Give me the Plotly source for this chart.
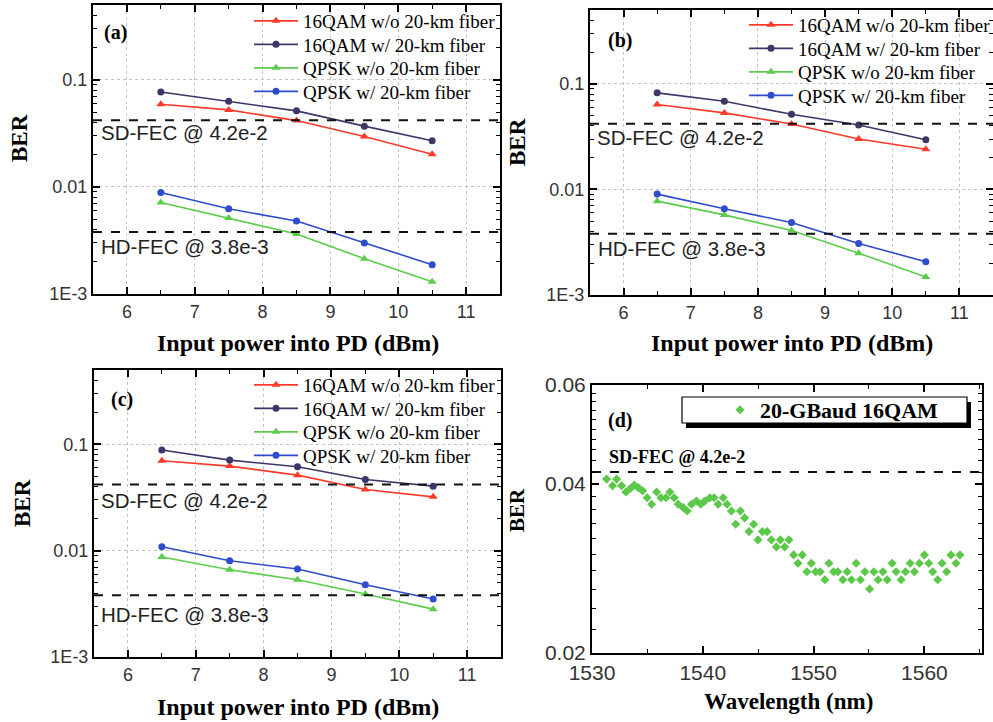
import plotly.graph_objects as go

# ---------------- data ----------------
power_dbm = [6.5, 7.5, 8.5, 9.5, 10.5]

a_16qam_wo = [0.0593, 0.0525, 0.0417, 0.0296, 0.0202]
a_16qam_w = [0.0772, 0.0632, 0.0514, 0.0370, 0.0270]
a_qpsk_wo = [0.00716, 0.00512, 0.00363, 0.00214, 0.00130]
a_qpsk_w = [0.00889, 0.00625, 0.00480, 0.00299, 0.00188]

b_16qam_wo = [0.0637, 0.0531, 0.0417, 0.0301, 0.0240]
b_16qam_w = [0.0822, 0.0685, 0.0515, 0.0408, 0.0296]
b_qpsk_wo = [0.00775, 0.00574, 0.00408, 0.00249, 0.00148]
b_qpsk_w = [0.00903, 0.00655, 0.00486, 0.00307, 0.00207]

c_16qam_wo = [0.0702, 0.0625, 0.0514, 0.0377, 0.0321]
c_16qam_w = [0.0885, 0.0712, 0.0616, 0.0468, 0.0405]
c_qpsk_wo = [0.00871, 0.00662, 0.00533, 0.00391, 0.00282]
c_qpsk_w = [0.0109, 0.00805, 0.00672, 0.00478, 0.00351]

series_names = ["16QAM w/o 20-km fiber", "16QAM w/ 20-km fiber",
                "QPSK w/o 20-km fiber", "QPSK w/ 20-km fiber"]

wavelength_nm = [1531.32, 1531.86, 1532.22, 1532.67, 1533.06, 1533.48, 1533.81, 1534.17,
                 1534.56, 1534.98, 1535.38, 1535.83, 1536.22, 1536.67, 1537.03, 1537.42,
                 1537.78, 1538.23, 1538.59, 1538.98, 1539.43, 1539.82, 1540.18, 1540.63,
                 1541.02, 1541.38, 1541.83, 1542.19, 1542.58, 1542.97, 1543.39, 1543.78,
                 1544.17, 1544.59, 1544.98, 1545.38, 1545.80, 1546.19, 1546.64, 1547.00,
                 1547.39, 1547.78, 1548.20, 1548.59, 1548.98, 1549.40, 1549.79, 1550.18,
                 1550.60, 1551.02, 1551.38, 1551.80, 1552.19, 1552.64, 1553.03, 1553.42,
                 1553.84, 1554.23, 1554.62, 1555.05, 1555.44, 1555.83, 1556.25, 1556.64,
                 1557.09, 1557.45, 1557.90, 1558.29, 1558.71, 1559.10, 1559.55, 1560.00,
                 1560.39, 1560.75, 1561.20, 1561.59, 1562.01, 1562.40, 1562.85, 1563.21]
d_ber = [0.0408, 0.0397, 0.0408, 0.0397, 0.0387, 0.0393, 0.0398, 0.0394,
         0.0389, 0.0378, 0.0368, 0.0387, 0.0378, 0.0378, 0.0387, 0.0378,
         0.0368, 0.0363, 0.0358, 0.0368, 0.0373, 0.0368, 0.0373, 0.0378,
         0.0378, 0.0368, 0.0378, 0.0368, 0.0358, 0.0339, 0.0358, 0.0348,
         0.0329, 0.0339, 0.0318, 0.0329, 0.0329, 0.0318, 0.0309, 0.0318,
         0.0309, 0.0318, 0.0299, 0.0289, 0.0299, 0.0279, 0.0289, 0.0279,
         0.0279, 0.0270, 0.0289, 0.0279, 0.0279, 0.0270, 0.0279, 0.0270,
         0.0289, 0.0270, 0.0279, 0.0260, 0.0279, 0.0270, 0.0279, 0.0270,
         0.0289, 0.0279, 0.0270, 0.0279, 0.0289, 0.0279, 0.0289, 0.0299,
         0.0289, 0.0279, 0.0270, 0.0289, 0.0279, 0.0299, 0.0289, 0.0299]

SD_FEC = 0.042
HD_FEC = 0.0038

ber_tick_vals = [0.001, 0.01, 0.1]
ber_tick_text = ["1E-3", "0.01", "0.1"]
d_tick_vals = [0.02, 0.04, 0.06]
d_tick_text = ["0.02", "0.04", "0.06"]

# ---------------- styling ----------------
W, H = 993, 722
def px(x):
    return x / W
def py(y):
    return 1 - y / H

colors = ["#ff3a2a", "#3c3768", "#5ccc4c", "#2e4ccc"]
symbols = ["triangle-up", "circle", "triangle-up", "circle"]
msizes = [8, 7, 8, 7]
SERIF = "Liberation Serif"
SANS = "Liberation Sans"
green_d = "#5cc84a"

fig = go.Figure()

# (axis suffix, legend left px, first-row center y px, series)
panels = [
    ("", 249, 21, [a_16qam_wo, a_16qam_w, a_qpsk_wo, a_qpsk_w]),
    ("2", 744, 25, [b_16qam_wo, b_16qam_w, b_qpsk_wo, b_qpsk_w]),
    ("3", 249, 385, [c_16qam_wo, c_16qam_w, c_qpsk_wo, c_qpsk_w]),
]
ROW = 23.5
x_range = [5.5, 11.5]
legend_layouts = {}
leg_idx = 0
for xs, lx, ly, series in panels:
    for i, vals in enumerate(series):
        leg_idx += 1
        lname = "legend" if leg_idx == 1 else "legend%d" % leg_idx
        fig.add_trace(go.Scatter(
            x=power_dbm, y=vals, name=series_names[i], mode="lines+markers",
            line=dict(color=colors[i], width=1.6),
            marker=dict(symbol=symbols[i], size=msizes[i], color=colors[i]),
            xaxis="x" + xs, yaxis="y" + xs, legend=lname))
        legend_layouts[lname] = dict(
            x=px(lx), y=py(ly + ROW * i), xanchor="left", yanchor="middle",
            bgcolor="rgba(0,0,0,0)", borderwidth=0, itemwidth=44,
            font=dict(family=SERIF, size=19, color="black"),
            itemclick=False, itemdoubleclick=False)
    for lvl in (SD_FEC, HD_FEC):
        fig.add_trace(go.Scatter(
            x=x_range, y=[lvl, lvl], mode="lines", showlegend=False, hoverinfo="skip",
            line=dict(color="#111", width=2, dash="dash"),
            xaxis="x" + xs, yaxis="y" + xs))

# panel d
fig.add_trace(go.Scatter(
    x=[1530, 1565.2], y=[SD_FEC, SD_FEC], mode="lines", showlegend=False, hoverinfo="skip",
    line=dict(color="#111", width=2, dash="dash"), xaxis="x4", yaxis="y4"))
fig.add_trace(go.Scatter(
    x=wavelength_nm, y=d_ber, mode="markers", name="20-GBaud 16QAM",
    marker=dict(symbol="diamond", size=7, color=green_d),
    xaxis="x4", yaxis="y4", legend="legend13"))
legend_layouts["legend13"] = dict(
    x=px(720), y=py(410), xanchor="left", yanchor="middle",
    bgcolor="rgba(0,0,0,0)", borderwidth=0, itemwidth=30,
    font=dict(family=SERIF, size=22, color="black", weight="bold"),
    itemclick=False, itemdoubleclick=False)

minor_log = [k * 10 ** e for e in (-3, -2, -1) for k in range(2, 10)]
minor_d = [round(0.02 + 0.002 * k, 3) for k in range(1, 20) if k != 10]

def xaxis_cfg(domain, anchor, rng, dtick, minor_dtick, tfs, grid=True):
    return dict(domain=domain, anchor=anchor, range=rng, dtick=dtick, tick0=0,
                ticks="inside", ticklen=7, tickwidth=1.5, tickcolor="black",
                showline=True, linewidth=2, linecolor="black", mirror="allticks",
                showgrid=grid, gridcolor="#c4c4c4", griddash="dot", gridwidth=1,
                zeroline=False, automargin=False,
                minor=dict(ticks="inside", ticklen=4, tickwidth=1.2, dtick=minor_dtick,
                           tickcolor="black", showgrid=False),
                tickfont=dict(family=SANS, size=tfs, color="#333"))

def yaxis_cfg(domain, anchor, rng, tv, tt, mv, tfs, grid=True):
    return dict(domain=domain, anchor=anchor, type="log", range=rng,
                tickmode="array", tickvals=tv, ticktext=tt,
                ticks="inside", ticklen=7, tickwidth=1.5, tickcolor="black",
                showline=True, linewidth=2, linecolor="black", mirror="allticks",
                showgrid=grid, gridcolor="#c4c4c4", griddash="dot", gridwidth=1,
                zeroline=False, automargin=False,
                minor=dict(ticks="inside", ticklen=4, tickwidth=1.2, tickmode="array",
                           tickvals=mv, tickcolor="black", showgrid=False),
                tickfont=dict(family=SANS, size=tfs, color="#333"))

fig.update_layout(
    xaxis=xaxis_cfg([px(93), px(500)], "y", x_range, 1, 0.5, 18),
    yaxis=yaxis_cfg([py(294), py(5)], "x", [-3, -0.3], ber_tick_vals, ber_tick_text, minor_log, 18),
    xaxis2=xaxis_cfg([px(590), 1.0], "y2", x_range, 1, 0.5, 18),
    yaxis2=yaxis_cfg([py(295), py(10)], "x2", [-3, -0.3], ber_tick_vals, ber_tick_text, minor_log, 18),
    xaxis3=xaxis_cfg([px(94), px(501)], "y3", x_range, 1, 0.5, 18),
    yaxis3=yaxis_cfg([py(657), py(370)], "x3", [-3, -0.3], ber_tick_vals, ber_tick_text, minor_log, 18),
    xaxis4=xaxis_cfg([px(592), px(982)], "y4", [1530, 1565.2], 10, 5, 21, grid=False),
    yaxis4=yaxis_cfg([py(653), py(385)], "x4", [-1.69897, -1.221849], d_tick_vals, d_tick_text, minor_d, 21, grid=False),
)
fig.update_layout(**legend_layouts)

# legend box with shadow for panel d
fig.add_shape(type="rect", xref="paper", yref="paper",
              x0=px(686), x1=px(971), y0=py(428), y1=py(402),
              fillcolor="black", line=dict(width=0), layer="below")
fig.add_shape(type="rect", xref="paper", yref="paper",
              x0=px(682), x1=px(967), y0=py(423), y1=py(397),
              fillcolor="white", line=dict(color="black", width=1.2), layer="below")

def ann(text, x, y, size, family, bold=False, xanchor="center", angle=0, color="black"):
    fig.add_annotation(text=text, x=px(x), y=py(y), xref="paper", yref="paper",
                       showarrow=False, xanchor=xanchor, yanchor="middle", textangle=angle,
                       font=dict(family=family, size=size, color=color,
                                 weight="bold" if bold else "normal"))

# panel labels
ann("(a)", 115, 32, 20, SERIF, True)
ann("(b)", 620, 40, 20, SERIF, True)
ann("(c)", 122, 399, 20, SERIF, True)
ann("(d)", 620, 420, 20, SERIF, True)

# FEC labels
FEC_FS = 20.5
ann("SD-FEC @ 4.2e-2", 99, 132, FEC_FS, SANS, xanchor="left", color="#222")
ann("HD-FEC @ 3.8e-3", 99, 246, FEC_FS, SANS, xanchor="left", color="#222")
ann("SD-FEC @ 4.2e-2", 595, 138, FEC_FS, SANS, xanchor="left", color="#222")
ann("HD-FEC @ 3.8e-3", 596, 248, FEC_FS, SANS, xanchor="left", color="#222")
ann("SD-FEC @ 4.2e-2", 99, 500, FEC_FS, SANS, xanchor="left", color="#222")
ann("HD-FEC @ 3.8e-3", 99, 614, FEC_FS, SANS, xanchor="left", color="#222")
ann("SD-FEC @ 4.2e-2", 607, 457, 18, SERIF, True, xanchor="left")

# axis titles
ann("BER", 20, 138, 23, SERIF, True, angle=-90)
ann("BER", 517, 142, 23, SERIF, True, angle=-90)
ann("BER", 22, 503, 23, SERIF, True, angle=-90)
ann("BER", 517, 510, 21, SERIF, True, angle=-90)
ann("Input power into PD (dBm)", 298, 343, 24, SERIF, True)
ann("Input power into PD (dBm)", 792, 343, 24, SERIF, True)
ann("Input power into PD (dBm)", 298, 707, 24, SERIF, True)
ann("Wavelength (nm)", 788, 701, 23, SERIF, True)

fig.update_layout(width=W, height=H, margin=dict(l=0, r=0, t=0, b=0, autoexpand=False),
                  paper_bgcolor="white", plot_bgcolor="rgba(0,0,0,0)")

fig.write_html("out.html")
